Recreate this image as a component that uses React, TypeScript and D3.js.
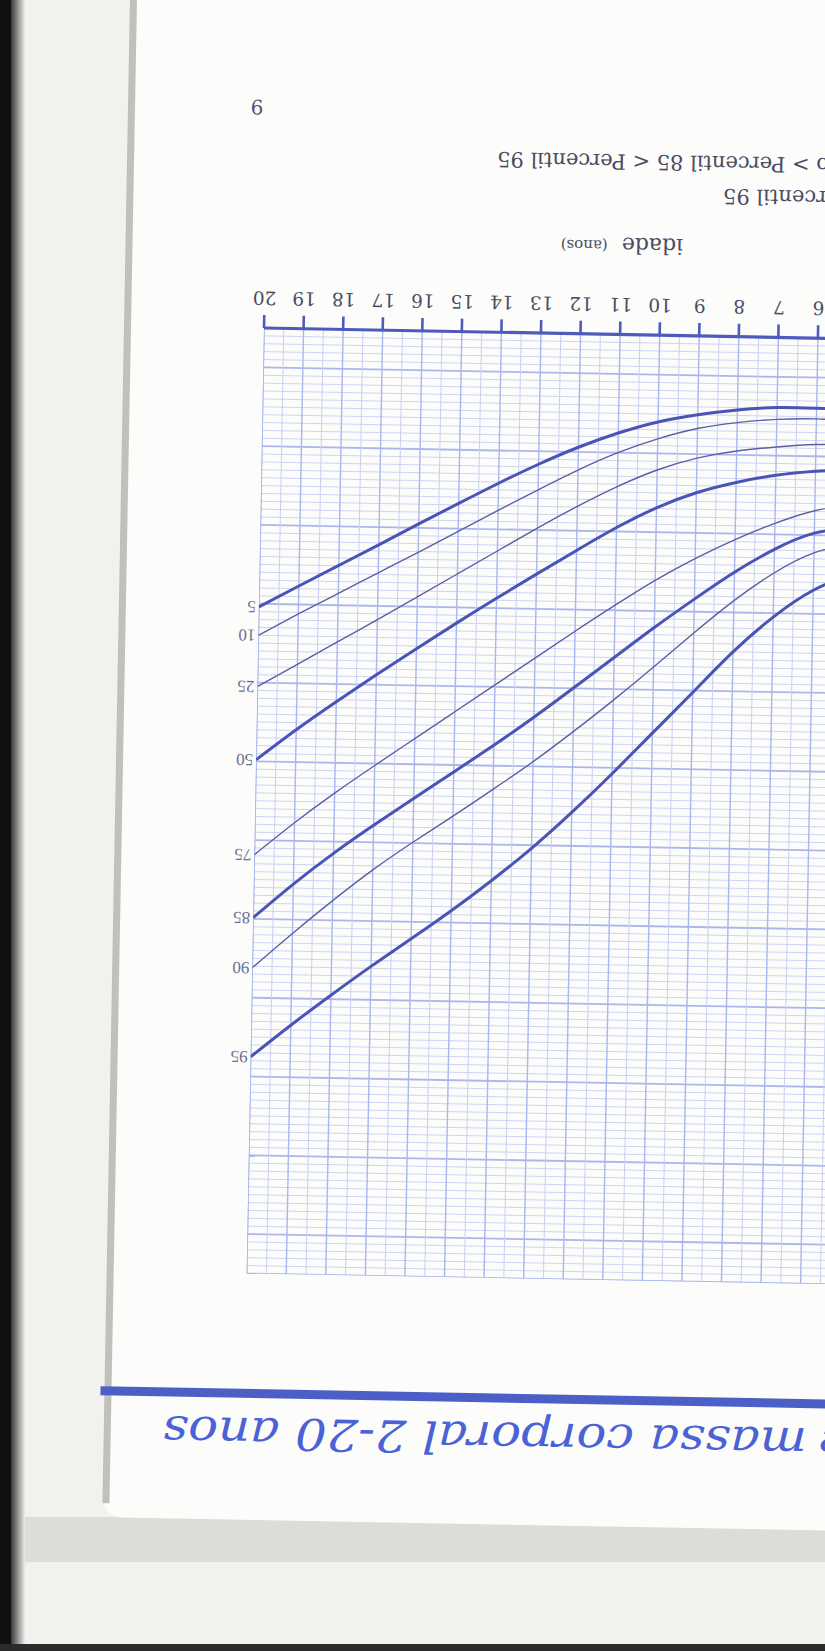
import * as d3 from 'd3';

// ages (years), 5 is just past the right edge
const ages = [5, 6, 7, 8, 9, 10, 11, 12, 13, 14, 15, 16, 17, 18, 19, 20];

// BMI percentile curves (kg/m2)
const p5 = [13.8, 13.78, 13.78, 13.86, 14.0, 14.2, 14.5, 14.88, 15.33, 15.83, 16.36, 16.9, 17.45, 17.99, 18.53, 19.08];
const p10 = [14.1, 14.05, 14.08, 14.18, 14.35, 14.63, 15.0, 15.46, 15.98, 16.52, 17.07, 17.62, 18.16, 18.7, 19.24, 19.8];
const p25 = [14.7, 14.7, 14.78, 14.9, 15.1, 15.42, 15.86, 16.38, 16.95, 17.55, 18.15, 18.75, 19.35, 19.93, 20.52, 21.1];
const p50 = [15.3, 15.38, 15.5, 15.7, 15.98, 16.38, 16.9, 17.5, 18.12, 18.75, 19.4, 20.07, 20.75, 21.45, 22.18, 22.96];
const p75 = [16.2, 16.38, 16.72, 17.15, 17.65, 18.22, 18.87, 19.55, 20.25, 20.95, 21.65, 22.35, 23.05, 23.77, 24.54, 25.37];
const p85 = [16.8, 16.95, 17.38, 17.98, 18.68, 19.42, 20.2, 20.98, 21.75, 22.48, 23.18, 23.87, 24.57, 25.3, 26.1, 26.97];
const p90 = [17.2, 17.45, 17.98, 18.7, 19.54, 20.42, 21.28, 22.1, 22.88, 23.6, 24.3, 24.98, 25.7, 26.5, 27.35, 28.24];
const p95 = [17.95, 18.4, 19.1, 20.0, 21.05, 22.1, 23.15, 24.15, 25.08, 25.92, 26.7, 27.43, 28.15, 28.9, 29.68, 30.5];

const ageTicks = [2, 3, 4, 5, 6, 7, 8, 9, 10, 11, 12, 13, 14, 15, 16, 17, 18, 19, 20];

const W = 825;
const H = 1651;

const gridMinor = '#c8d0f4';
const gridMajor = '#aab6ee';
const curveBold = '#4a54b4';
const curveThin = '#5b5fa6';
const axisBlue = '#4e5bbd';

export default function App() {
    // the scanned page is upside down and a little skewed
    const pageTransform = 'rotate(1.05 264 328) rotate(180 412.5 825.5)';

    const x = d3.scaleLinear().domain([2, 20]).range([-151.3, 561]);
    const y = d3.scaleLinear().domain([12, 36]).range([1323, 377.4]);

    const series = [
        { label: '5', values: p5, bold: true },
        { label: '10', values: p10, bold: false },
        { label: '25', values: p25, bold: false },
        { label: '50', values: p50, bold: true },
        { label: '75', values: p75, bold: false },
        { label: '85', values: p85, bold: true },
        { label: '90', values: p90, bold: false },
        { label: '95', values: p95, bold: true },
    ];

    const line = d3
        .line<number>()
        .x((_, i) => x(ages[i]))
        .y((d) => y(d))
        .curve(d3.curveNatural);

    const hLines = d3.range(0, 121).map((i) => 12 + i * 0.2);
    const vLines = d3.range(0, 37).map((i) => 2 + i * 0.5);

    const [x0, x1] = x.range();
    const [yTop, yBot] = [y(36), y(12)];

    return (
        <svg width={W} height={H} style={{ position: 'absolute', left: 0, top: 0 }}>
            <defs>
                <linearGradient id="edge" x1="0" x2="1" y1="0" y2="0">
                    <stop offset="0" stopColor="#3a3a3a" />
                    <stop offset="1" stopColor="#ececea" />
                </linearGradient>
                <clipPath id="gridClip">
                    <rect x={x0} y={yTop} width={x1 - x0} height={yBot - yTop} />
                </clipPath>
            </defs>

            {/* scanner background */}
            <rect x={0} y={0} width={W} height={H} fill="#f1f1ee" />
            <rect x={0} y={1517} width={W} height={45} fill="#dcdcd8" />
            <rect x={0} y={0} width={11} height={H} fill="#111" />
            <rect x={11} y={0} width={14} height={H} fill="url(#edge)" />
            <rect x={0} y={1644} width={W} height={7} fill="#2b2b2b" />

            <g transform={pageTransform}>
                {/* paper */}
                <rect x={-300} y={131} width={1000} height={1700} rx={18} fill="#fcfcfa" />
                <rect x={694} y={145} width={7} height={1680} fill="#a6a6a2" opacity={0.7} />

                {/* header */}
                <text
                    x={-14}
                    y={233}
                    textAnchor="end"
                    fontFamily="DejaVu Serif"
                    fontStyle="italic"
                    fontSize={44}
                    fill="#4a62d6"
                >
                    Índice de
                </text>
                <text
                    x={-2}
                    y={233}
                    fontFamily="DejaVu Serif"
                    fontStyle="italic"
                    fontSize={44}
                    fill="#4a62d6"
                    textLength={644}
                    lengthAdjust="spacingAndGlyphs"
                >
                    massa corporal 2-20 anos
                </text>
                <rect x={-300} y={253} width={1005} height={9} fill="#4c5fc6" />

                {/* grid */}
                <g clipPath="url(#gridClip)">
                    {hLines.map((v, i) => {
                        const major = i % 10 === 5;
                        return (
                            <line
                                key={'h' + i}
                                x1={x0}
                                x2={x1}
                                y1={y(v)}
                                y2={y(v)}
                                stroke={major ? gridMajor : gridMinor}
                                strokeWidth={major ? 1.8 : 0.9}
                            />
                        );
                    })}
                    {vLines.map((v, i) => (
                        <line
                            key={'v' + i}
                            x1={x(v)}
                            x2={x(v)}
                            y1={yTop}
                            y2={yBot}
                            stroke={i % 2 === 0 ? gridMajor : gridMinor}
                            strokeWidth={i % 2 === 0 ? 1.4 : 1}
                        />
                    ))}
                    <line x1={x1} x2={x1} y1={yTop} y2={yBot} stroke={gridMajor} strokeWidth={1.6} />
                    <line x1={x0} x2={x1} y1={yTop} y2={yTop} stroke={gridMajor} strokeWidth={1.6} />

                    {/* percentile curves */}
                    {series.map((s) => (
                        <path
                            key={s.label}
                            d={line(s.values) || ''}
                            fill="none"
                            stroke={s.bold ? curveBold : curveThin}
                            strokeWidth={s.bold ? 3 : 1.4}
                        />
                    ))}
                </g>

                {/* curve labels */}
                {series.map((s) => (
                    <text
                        key={'l' + s.label}
                        x={x(20) + 3}
                        y={y(s.values[s.values.length - 1])}
                        dominantBaseline="central"
                        fontFamily="Liberation Serif"
                        fontSize={17}
                        fill="#6b7090"
                    >
                        {s.label}
                    </text>
                ))}

                {/* age axis */}
                <line x1={x0} x2={x1} y1={yBot} y2={yBot} stroke={axisBlue} strokeWidth={3.2} />
                {ageTicks.map((t) => (
                    <g key={'t' + t}>
                        <line x1={x(t)} x2={x(t)} y1={yBot} y2={yBot + 13} stroke={axisBlue} strokeWidth={2.6} />
                        <text
                            x={x(t)}
                            y={yBot + 30}
                            textAnchor="middle"
                            dominantBaseline="central"
                            fontFamily="DejaVu Serif"
                            fontSize={18.5}
                            fill="#4a4c62"
                        >
                            {t}
                        </text>
                    </g>
                ))}

                <text x={143.5} y={1411.7} dominantBaseline="central" fontFamily="DejaVu Serif" fill="#4a4c62">
                    <tspan fontSize={22}>idade</tspan>
                    <tspan fontSize={15} dx={14}>
                        (anos)
                    </tspan>
                </text>

                {/* legend */}
                <text
                    x={104.4}
                    y={1463.4}
                    textAnchor="end"
                    dominantBaseline="central"
                    fontFamily="DejaVu Serif"
                    fontSize={21}
                    fill="#4a4c62"
                >
                    Sobrepeso &gt; Percentil 95
                </text>
                <text
                    x={331}
                    y={1496.2}
                    textAnchor="end"
                    dominantBaseline="central"
                    fontFamily="DejaVu Serif"
                    fontSize={21}
                    fill="#4a4c62"
                >
                    Risco de sobrepeso &gt; Percentil 85 &lt; Percentil 95
                </text>

                {/* page number */}
                <text
                    x={572}
                    y={1544}
                    textAnchor="middle"
                    dominantBaseline="central"
                    fontFamily="DejaVu Serif"
                    fontSize={20}
                    fill="#50566e"
                >
                    9
                </text>
            </g>
        </svg>
    );
}
